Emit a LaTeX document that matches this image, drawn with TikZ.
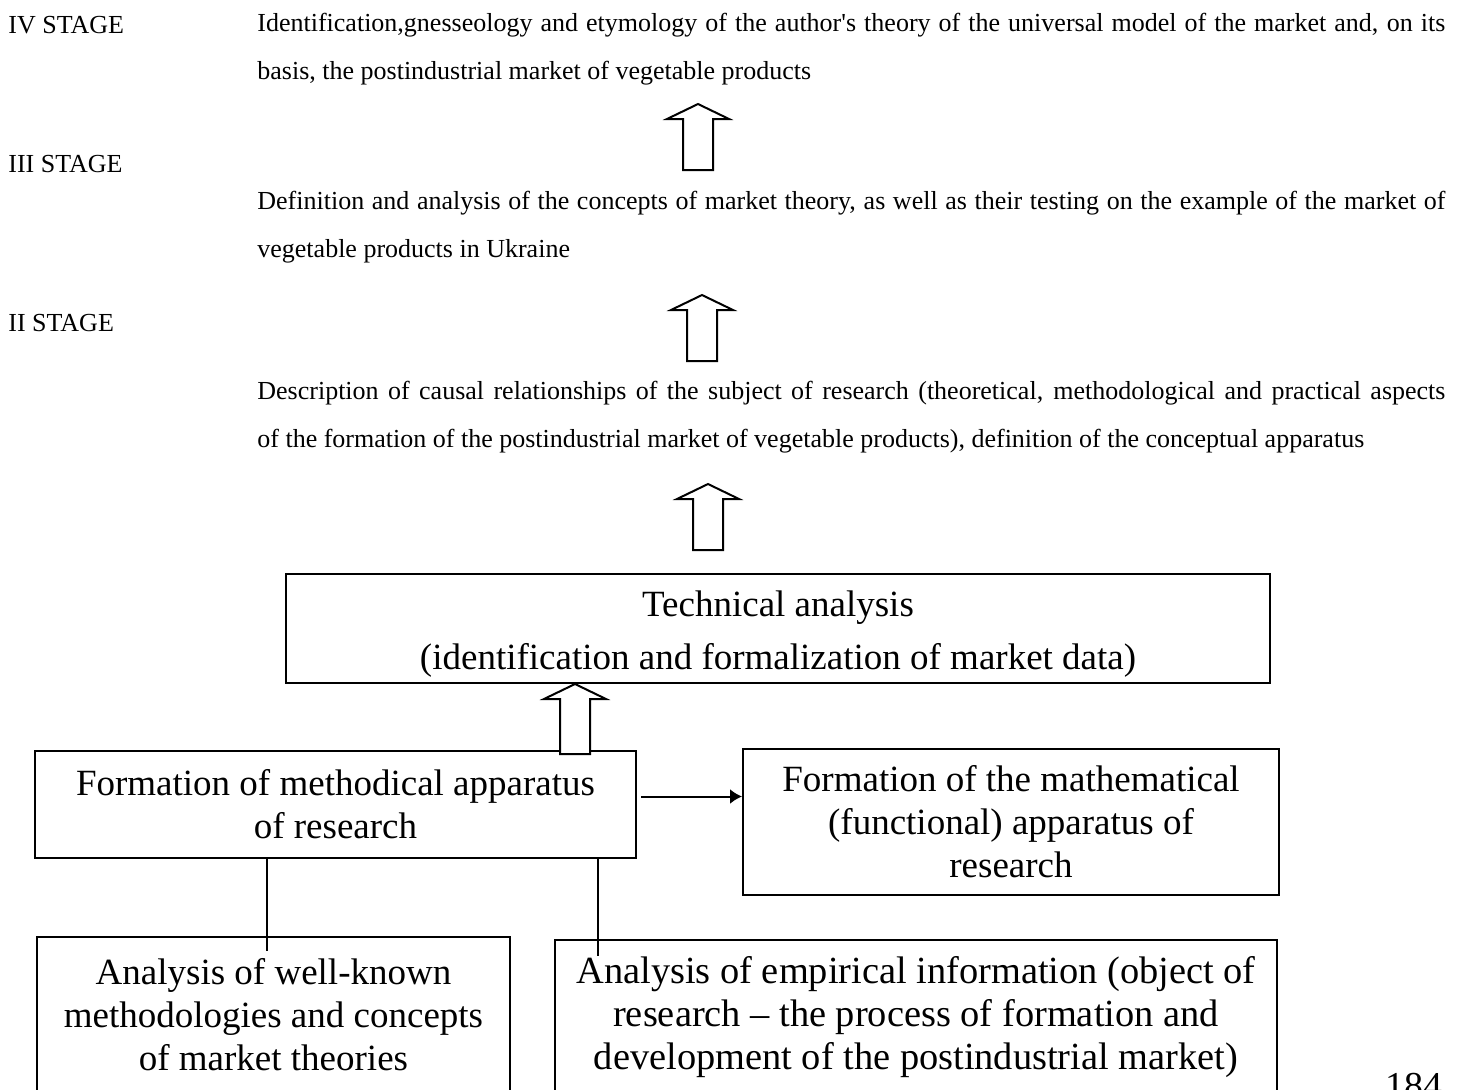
\documentclass[tikz,border=0pt]{standalone}
\usepackage{fontspec}
\setmainfont{Liberation Serif}
\usetikzlibrary{arrows,arrows.meta}

\tikzset{
	stagelabel/.style={anchor=base west,inner sep=0pt,font=\fontsize{13}{24}\selectfont},
	stagetext/.style={anchor=base west,inner sep=0pt,text width=594pt,align=justify,font=\fontsize{13}{24}\selectfont},
	block/.style={draw,line width=1pt,inner sep=0pt,align=center,font=\fontsize{18.5}{21.5}\selectfont},
	pics/hollowup/.style={code={
		\draw[line width=1pt,fill=white] (0,0)--(-31,15)--(-15,15)--(-15,#1)--(15,#1)--(15,15)--(31,15)--cycle;
	}}
}

\begin{document}
\begin{tikzpicture}[>=latex,x=0.5pt,y=-0.5pt]

\useasboundingbox (0,0) rectangle (1467,1089);

\foreach \y/\s in {33/IV,172/III,331/II}{
	\node[stagelabel] (stage\s) at (8,\y) {\s{} STAGE};
}

\node[stagetext] (textIV) at (257,31) {Identification,gnesseology and etymology of the author\textquotesingle s theory of the universal model of the market and, on its\linebreak basis, the postindustrial market of vegetable products};
\node[stagetext] (textIII) at (257,209) {Definition and analysis of the concepts of market theory, as well as their testing on the example of the market of\linebreak vegetable products in Ukraine};
\node[stagetext] (textII) at (257,399) {Description of causal relationships of the subject of research (theoretical, methodological and practical aspects\linebreak of the formation of the postindustrial market of vegetable products), definition of the conceptual apparatus};

\foreach \x/\y in {698/104,702/295,708/484}{
	\path (\x,\y) pic{hollowup=66};
}

\node[block,minimum width=492pt,minimum height=54.5pt,font=\fontsize{18.5}{26.5}\selectfont] (tech) at (778,628.5) {\rule{0pt}{18.5pt}Technical analysis\\(identification and formalization of market data)};
\node[block,minimum width=300.5pt,minimum height=53.5pt] (meth) at (335.5,804.5) {Formation of methodical apparatus\\of research};
\node[block,minimum width=268pt,minimum height=73pt] (math) at (1011,822) {Formation of the mathematical\\(functional) apparatus of\\research};
\node[block,minimum width=236.5pt,minimum height=78pt] (lbox) at (273.5,1015) {Analysis of well-known\\methodologies and concepts\\of market theories};
\node[block,minimum width=361pt,minimum height=77.5pt,font=\fontsize{19.2}{21.5}\selectfont] (rbox) at (916,1017.5) {Analysis of empirical information (object of\\research -- the process of formation and\\development of the postindustrial market)};

\coordinate (a4) at ([shift={(290,0)}]tech.south west);
\path (a4) pic{hollowup=70};

\coordinate (hs) at ([shift={(4,-8)}]meth.east);
\draw[-{Latex[length=6pt,width=7.5pt]},line width=1pt] (hs) -- (hs -| math.west);

\coordinate (lc) at ([shift={(233,0)}]meth.south west);
\coordinate (rc) at ([shift={(-39,0)}]meth.south east);
\draw[line width=0.8pt] (lc) -- (lc |- lbox.north) -- ++(0,15);
\draw[line width=0.8pt] (rc) -- (rc |- rbox.north) -- ++(0,17);

\node[anchor=base west,inner sep=0pt,font=\fontsize{19}{22}\selectfont] (page) at (1385,1098) {184};

\end{tikzpicture}
\end{document}
